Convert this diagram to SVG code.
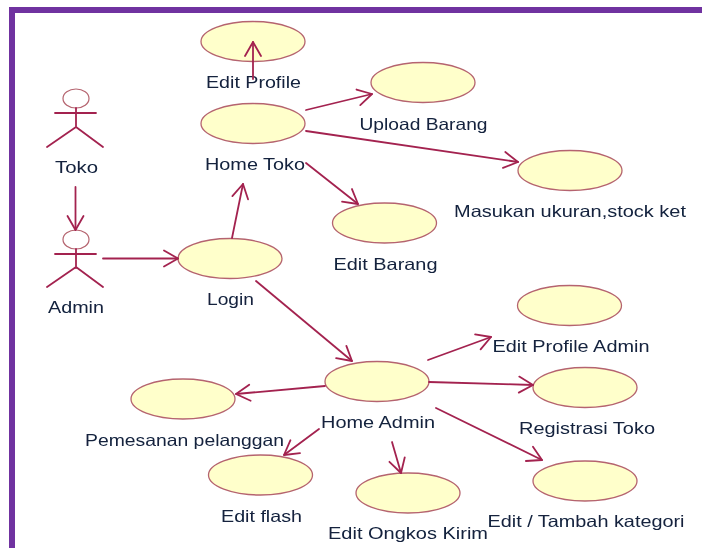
<svg xmlns="http://www.w3.org/2000/svg" width="702" height="548" viewBox="0 0 702 548">
<style>
.uc{fill:#ffffcb;stroke:#b5646f;stroke-width:1.3}
.a{fill:none;stroke:#a3224f;stroke-width:1.8;stroke-linecap:round;stroke-linejoin:round}
.h{fill:#fff;stroke:#b5646f;stroke-width:1.2}
text{font-family:"Liberation Sans",Arial,sans-serif;font-size:16.5px;fill:#12203c;text-anchor:middle}
</style>
<defs>
<marker id="ah" markerUnits="userSpaceOnUse" markerWidth="24" markerHeight="24" refX="19" refY="12" orient="auto"><path d="M5 4L19 12L5 20" fill="none" stroke="#a3224f" stroke-width="1.8" stroke-linecap="round" stroke-linejoin="round"/></marker>
<filter id="soft" x="0" y="0" width="100%" height="100%"><feGaussianBlur stdDeviation="0.4"/></filter>
</defs>
<rect width="702" height="548" fill="#fff"/>
<g filter="url(#soft)">
<path id="frame" d="M702 7H9V548H15V13H702Z" fill="#7030a0"/>
<g id="uc-edit-profile"><ellipse class="uc" cx="253" cy="41.5" rx="52" ry="20"/><text x="253.500" y="88" textLength="95" lengthAdjust="spacingAndGlyphs">Edit Profile</text></g>
<g id="uc-home-toko"><ellipse class="uc" cx="253" cy="123.500" rx="52" ry="20"/><text x="255" y="170" textLength="100" lengthAdjust="spacingAndGlyphs">Home Toko</text></g>
<g id="uc-upload"><ellipse class="uc" cx="423" cy="82.500" rx="52" ry="20"/><text x="423.500" y="130" textLength="128" lengthAdjust="spacingAndGlyphs">Upload Barang</text></g>
<g id="uc-masukan"><ellipse class="uc" cx="570" cy="170.500" rx="52" ry="20"/><text x="570" y="217" textLength="232" lengthAdjust="spacingAndGlyphs">Masukan ukuran,stock ket</text></g>
<g id="uc-edit-barang"><ellipse class="uc" cx="384.500" cy="223" rx="52" ry="20"/><text x="385.500" y="270" textLength="104" lengthAdjust="spacingAndGlyphs">Edit Barang</text></g>
<g id="uc-login"><ellipse class="uc" cx="230" cy="258.500" rx="52" ry="20"/><text x="230.500" y="305" textLength="47" lengthAdjust="spacingAndGlyphs">Login</text></g>
<g id="uc-home-admin"><ellipse class="uc" cx="377" cy="381.500" rx="52" ry="20"/><text x="378" y="428" textLength="114" lengthAdjust="spacingAndGlyphs">Home Admin</text></g>
<g id="uc-pemesanan"><ellipse class="uc" cx="183" cy="399" rx="52" ry="20"/><text x="184.500" y="446" textLength="199" lengthAdjust="spacingAndGlyphs">Pemesanan pelanggan</text></g>
<g id="uc-edit-flash"><ellipse class="uc" cx="260.500" cy="475" rx="52" ry="20"/><text x="261.500" y="522" textLength="81" lengthAdjust="spacingAndGlyphs">Edit flash</text></g>
<g id="uc-ongkos"><ellipse class="uc" cx="408" cy="493" rx="52" ry="20"/><text x="408" y="539" textLength="160" lengthAdjust="spacingAndGlyphs">Edit Ongkos Kirim</text></g>
<g id="uc-profile-admin"><ellipse class="uc" cx="569.500" cy="305.500" rx="52" ry="20"/><text x="571" y="352" textLength="157" lengthAdjust="spacingAndGlyphs">Edit Profile Admin</text></g>
<g id="uc-registrasi"><ellipse class="uc" cx="585" cy="387.500" rx="52" ry="20"/><text x="587" y="434" textLength="136" lengthAdjust="spacingAndGlyphs">Registrasi Toko</text></g>
<g id="uc-kategori"><ellipse class="uc" cx="585" cy="481" rx="52" ry="20"/><text x="586" y="527" textLength="197" lengthAdjust="spacingAndGlyphs">Edit / Tambah kategori</text></g>
<g id="actor-toko"><ellipse class="h" cx="76" cy="98.500" rx="13" ry="9.500"/><path class="a" d="M76 108V127M55 113H96M47 147L76 127L103 147"/><text x="76.500" y="173" textLength="43" lengthAdjust="spacingAndGlyphs">Toko</text></g>
<g id="actor-admin"><ellipse class="h" cx="76" cy="239.500" rx="13" ry="9.500"/><path class="a" d="M76 249V268M55 254H96M47 287L76 267L103 287"/><text x="76" y="313" textLength="56" lengthAdjust="spacingAndGlyphs">Admin</text></g>
<g id="connectors" class="a">
<path marker-end="url(#ah)" d="M253 79V42"/>
<path marker-end="url(#ah)" d="M306 110L372 94"/>
<path marker-end="url(#ah)" d="M306 131L518 162"/>
<path marker-end="url(#ah)" d="M306 163L358 204"/>
<path marker-end="url(#ah)" d="M232 238L243 184"/>
<path marker-end="url(#ah)" d="M75.500 187V230"/>
<path marker-end="url(#ah)" d="M103 258.500H178"/>
<path marker-end="url(#ah)" d="M256 281L352 361"/>
<path marker-end="url(#ah)" d="M325 386L236 394"/>
<path marker-end="url(#ah)" d="M319 429L284 455"/>
<path marker-end="url(#ah)" d="M392 442L401 473"/>
<path marker-end="url(#ah)" d="M428 360L491 337"/>
<path marker-end="url(#ah)" d="M429 382L533 385"/>
<path marker-end="url(#ah)" d="M436 408L542 460"/>
</g>
</g>
</svg>
